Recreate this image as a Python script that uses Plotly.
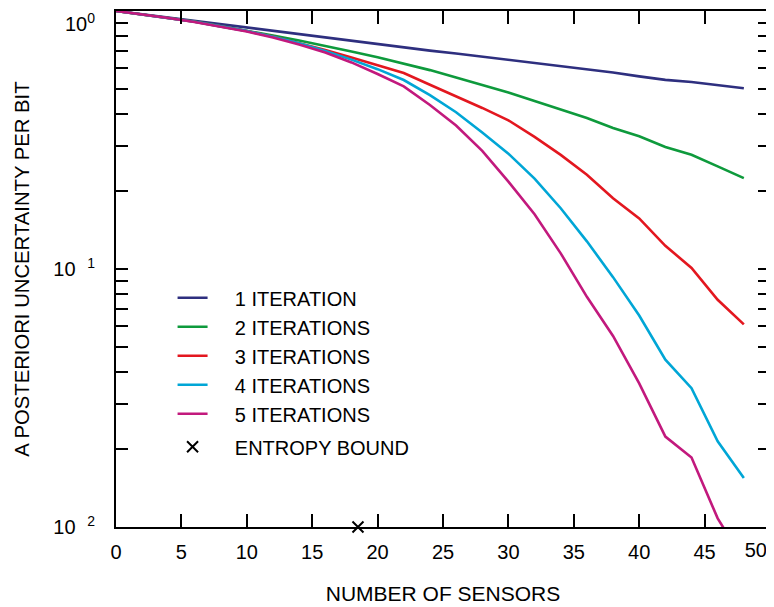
import plotly.graph_objects as go

# ---- data ----
sensors = [0, 2, 4, 6, 8, 10, 12, 14, 16, 18, 20, 22, 24, 26, 28, 30, 32, 34, 36, 38, 40, 42, 44, 46, 48]

iter1 = [1.0, 0.971, 0.942, 0.914, 0.887, 0.862, 0.836, 0.81, 0.786, 0.763, 0.742, 0.722, 0.702,
         0.684, 0.665, 0.646, 0.628, 0.61, 0.594, 0.578, 0.558, 0.541, 0.531, 0.517, 0.502]
iter2 = [1.0, 0.97, 0.94, 0.91, 0.875, 0.84, 0.803, 0.768, 0.733, 0.697, 0.662, 0.625, 0.59,
         0.553, 0.518, 0.483, 0.448, 0.415, 0.385, 0.352, 0.327, 0.297, 0.277, 0.25, 0.225]
iter3 = [1.0, 0.97, 0.94, 0.908, 0.872, 0.836, 0.796, 0.752, 0.706, 0.66, 0.615, 0.575, 0.518,
         0.468, 0.421, 0.377, 0.325, 0.277, 0.232, 0.188, 0.157, 0.123, 0.101, 0.076, 0.061]
iter4 = [1.0, 0.97, 0.94, 0.908, 0.872, 0.836, 0.795, 0.75, 0.70, 0.648, 0.595, 0.54, 0.472,
         0.405, 0.338, 0.28, 0.224, 0.172, 0.128, 0.093, 0.066, 0.0445, 0.0345, 0.0215, 0.0155]
iter5 = [1.0, 0.97, 0.94, 0.906, 0.87, 0.833, 0.79, 0.742, 0.69, 0.632, 0.57, 0.51, 0.432,
         0.36, 0.287, 0.218, 0.163, 0.115, 0.078, 0.055, 0.036, 0.0224, 0.0186, 0.0108, 0.0074]

entropy_x = [18.5]
entropy_y = [0.01]

series_names = ["1 ITERATION", "2 ITERATIONS", "3 ITERATIONS", "4 ITERATIONS", "5 ITERATIONS"]
entropy_name = "ENTROPY BOUND"
series_colors = ["#2e2f7f", "#0e9a3c", "#e3171f", "#00a6d6", "#c2197d"]

x_ticks = [0, 5, 10, 15, 20, 25, 30, 35, 40, 45, 50]
x_ticktext = ["0", "5", "10", "15", "20", "25", "30", "35", "40", "45", ""]
x_last_tick = [50]
x_last_text = ["50"]
y_tickvals = [1, 0.1, 0.01]
y_ticktext = ["\u00a0<br>10<sup>0</sup>", "10<sup>\u00a0\u00a0\u00a01</sup>", "10<sup>\u00a0\u00a0\u00a02</sup>"]
y_minor = [k * 0.01 for k in range(2, 10)] + [k * 0.1 for k in range(2, 10)]

FONT = "Liberation Sans, Arial, Helvetica, sans-serif"
PAD = "\u00a0\u00a0\u00a0\u00a0"

fig = go.Figure()
for name, col, ys in zip(series_names, series_colors, [iter1, iter2, iter3, iter4, iter5]):
    fig.add_trace(go.Scatter(x=sensors, y=ys, mode="lines", name=PAD + name,
                             xaxis="x", yaxis="y",
                             line=dict(color=col, width=2.6), legendgroup="a"))

# entropy bound drawn on the overlay x axis (same range as x)
fig.add_trace(go.Scatter(x=entropy_x, y=entropy_y, mode="markers", name=PAD + entropy_name,
                         xaxis="x2", yaxis="y",
                         marker=dict(symbol="x-thin", size=11, line=dict(color="black", width=2)),
                         cliponaxis=False, legendgroup="b"))

# the page body adds an 8px offset, so the figure is 8px smaller and margins compensate
fig.update_layout(
    width=766, height=599,
    margin=dict(l=108, r=4, t=3, b=80),
    paper_bgcolor="white", plot_bgcolor="white",
    font=dict(family=FONT, size=20, color="black"),
    showlegend=True,
    legend=dict(x=0.0865, y=0.482, xanchor="left", yanchor="top",
                bgcolor="rgba(0,0,0,0)", borderwidth=0,
                font=dict(family=FONT, size=20, color="black"),
                itemwidth=30, traceorder="grouped", tracegroupgap=4),
    xaxis=dict(
        range=[0, 50], tickmode="array", tickvals=x_ticks, ticktext=x_ticktext,
        ticks="inside", ticklen=13, tickwidth=1.5, tickcolor="black",
        showline=True, linecolor="black", linewidth=2, mirror="allticks",
        showgrid=False, zeroline=False, tickfont=dict(size=20, family=FONT, color="black"),
        automargin=False, ticklabelstandoff=6,
        title=dict(text="NUMBER OF SENSORS", font=dict(size=21, family=FONT, color="black"), standoff=24),
    ),
    # overlay axis carrying only the last x label, kept inside the figure edge
    xaxis2=dict(
        overlaying="x", anchor="y", side="bottom", range=[0, 50],
        tickmode="array", tickvals=x_last_tick, ticktext=x_last_text, ticks="",
        showline=False, showgrid=False, zeroline=False,
        tickfont=dict(size=20, family=FONT, color="black"),
        automargin=False, ticklabelposition="outside left", ticklabelstandoff=9,
        ticklabelshift=-3,
    ),
    yaxis=dict(
        type="log", range=[-2, 0], tickmode="array", tickvals=y_tickvals, ticktext=y_ticktext,
        ticks="inside", ticklen=12, tickwidth=1.5, tickcolor="black",
        showline=True, linecolor="black", linewidth=2, mirror="allticks",
        showgrid=False, zeroline=False, tickfont=dict(size=20, family=FONT, color="black"),
        automargin=False, ticklabeloverflow="allow", ticklabelstandoff=15,
        minor=dict(tickmode="array", tickvals=y_minor, ticks="inside", ticklen=7,
                   tickwidth=1.5, tickcolor="black", showgrid=False),
        title=dict(text="A POSTERIORI UNCERTAINTY PER BIT",
                   font=dict(size=20.3, family=FONT, color="black"), standoff=18),
    ),
)

fig.write_html("out.html")
